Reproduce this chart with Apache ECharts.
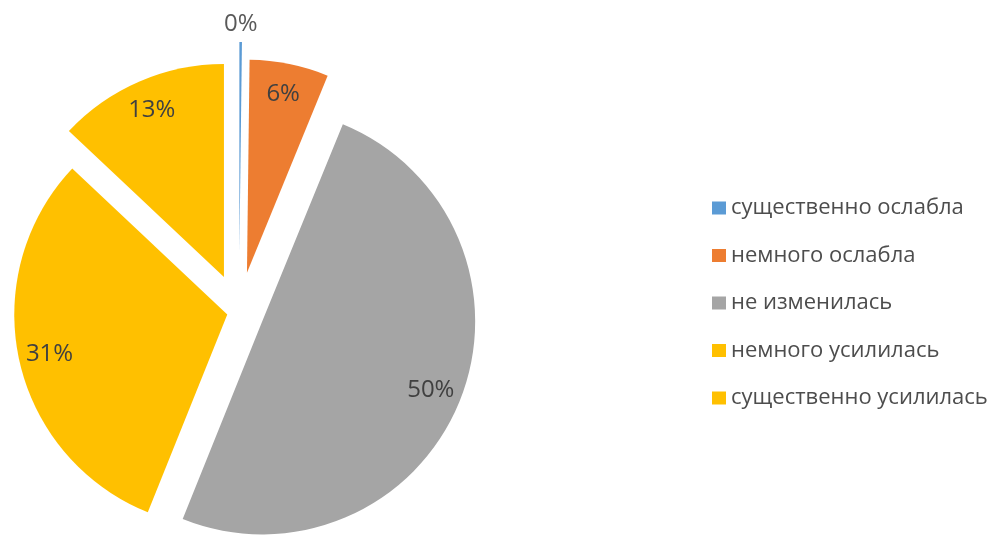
<!DOCTYPE html>
<html>
<head>
<meta charset="utf-8">
<script src="https://cdn.jsdelivr.net/npm/echarts@6/dist/echarts.min.js"></script>
<style>
  html, body { margin: 0; padding: 0; background: #ffffff; }
  #chart { width: 1008px; height: 535px; }
</style>
</head>
<body>
<div id="chart"></div>
<script>
// Survey answers and their shares, %
const categories = [
  'существенно ослабла',
  'немного ослабла',
  'не изменилась',
  'немного усилилась',
  'существенно усилилась'
];
const shares = [0, 6, 50, 31, 13];

// Slice colours, in the order of the categories
const colors = ['#5B9BD5', '#ED7D31', '#A5A5A5', '#FFC000', '#FFC000'];
// How far each slice is pulled out of the pie, px
const explode = [57, 40, 25, 12, 38];

const FONT = '"Open Sans", "Noto Sans", sans-serif';
const CENTER = [239, 312];
const R = 213;
const CLEAR = 'rgba(0,0,0,0)';

// Shared pie settings; each slice gets its own series so it can have its own pull-out
function basePie(k, radius) {
  return {
    type: 'pie',
    center: CENTER,
    radius: radius,
    startAngle: 90,
    clockwise: true,
    minAngle: 0.7,
    selectedMode: 'multiple',
    selectedOffset: explode[k],
    avoidLabelOverlap: false,
    silent: true,
    animation: false,
    emphasis: { disabled: true },
    labelLine: { show: false }
  };
}

// The visible wedge of slice k
function wedgeSeries(k) {
  return Object.assign(basePie(k, [0, R]), {
    name: 'wedge-' + k,
    label: { show: false },
    data: categories.map((name, i) => ({
      name: name,
      value: shares[i],
      selected: i === k,
      itemStyle: { color: i === k ? colors[i] : CLEAR, borderWidth: 0 },
      select: { itemStyle: { color: i === k ? colors[i] : CLEAR, borderWidth: 0 } }
    }))
  });
}

// The percentage label of slice k, carried by a transparent ring
function labelSeries(k, ring) {
  return Object.assign(basePie(k, ring), {
    name: 'label-' + k,
    data: categories.map((name, i) => ({
      name: name,
      value: shares[i],
      selected: i === k,
      itemStyle: { color: CLEAR, borderWidth: 0 },
      select: { itemStyle: { color: CLEAR, borderWidth: 0 } },
      label: {
        show: i === k,
        position: 'inside',
        formatter: '{c}%',
        fontFamily: FONT,
        fontSize: 24,
        color: i === 0 ? '#595959' : '#404040'
      }
    }))
  });
}

const series = [];
categories.forEach((_, k) => series.push(wedgeSeries(k)));
categories.forEach((_, k) => {
  const ring = k === 0 ? [R + 4, R + 26] : [145, R];
  series.push(labelSeries(k, ring));
});

const chart = echarts.init(document.getElementById('chart'), null, { renderer: 'canvas' });
chart.setOption({
  backgroundColor: '#ffffff',
  animation: false,
  legend: {
    orient: 'vertical',
    left: 712,
    top: 196,
    padding: 0,
    icon: 'rect',
    itemWidth: 14,
    itemHeight: 13,
    itemGap: 23.5,
    selectedMode: false,
    textStyle: { fontFamily: FONT, fontSize: 22, lineHeight: 24, color: '#4d4d4d' },
    data: categories.map((name, i) => ({
      name: name,
      itemStyle: { color: colors[i], opacity: 1, borderWidth: 0 }
    }))
  },
  series: series
});
</script>
</body>
</html>
